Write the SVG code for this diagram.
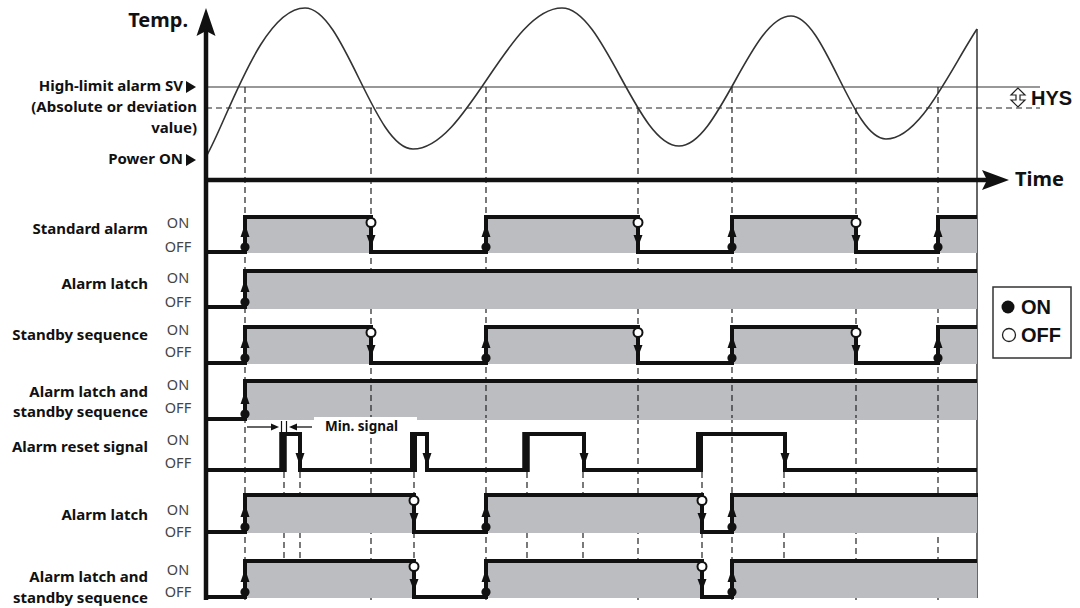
<svg xmlns="http://www.w3.org/2000/svg" width="1080" height="608" viewBox="0 0 1080 608">
<style>
.lbl{font-family:"Noto Sans","Liberation Sans",sans-serif;font-weight:bold;font-size:15px;fill:#111;text-anchor:end}
.onoff{font-family:"Noto Sans","Liberation Sans",sans-serif;font-size:14.5px;fill:#444;text-anchor:middle}
.big{font-family:"Noto Sans","Liberation Sans",sans-serif;font-weight:bold;font-size:20px;fill:#111}
.leg{font-family:"Liberation Sans",Arial,sans-serif;font-weight:bold;font-size:20px;fill:#111}
.dash{stroke:#222;stroke-width:1.2;stroke-dasharray:6 4;fill:none}
.gray{fill:#bcbdc0}
.sig{fill:none;stroke:#111;stroke-width:4;stroke-linejoin:miter}
.thin{fill:none;stroke:#333;stroke-width:1.2}
</style>
<defs>
<g id="up"><path d="M0,-28 L-4.5,-15 L4.5,-15 Z" fill="#111"/><circle cx="0" cy="-5" r="4.6" fill="#111"/></g>
<g id="down"><path d="M0,30 L-4.5,18 L4.5,18 Z" fill="#111"/><circle cx="0" cy="5.5" r="4.5" fill="#fff" stroke="#111" stroke-width="2"/></g>
<path id="dn" d="M0,32 L-4.5,19 L4.5,19 Z" fill="#111"/>
</defs>
<rect width="1080" height="608" fill="#fff"/>

<g id="temp-chart">
<line x1="206" y1="87" x2="1040" y2="87" class="thin"/>
<line x1="206" y1="108" x2="1040" y2="108" class="dash"/>
<path d="M207,155 C228,118 262,8 305,8 C344,8 374,149 413,149 C467,149 508,8 562,8 C604,8 637,146 679,146 C719,146 751,16 791,16 C825,16 852,139 886,139 C920,139 950,70 977,29" fill="none" stroke="#333" stroke-width="1.6"/>
<line x1="977" y1="29" x2="977" y2="598" stroke="#333" stroke-width="1.5"/>
</g>

<g id="connectors">
<g class="dash">
<line x1="245" y1="87" x2="245" y2="600"/>
<line x1="371" y1="108" x2="371" y2="600"/>
<line x1="486" y1="87" x2="486" y2="600"/>
<line x1="638" y1="108" x2="638" y2="600"/>
<line x1="732" y1="87" x2="732" y2="600"/>
<line x1="856" y1="108" x2="856" y2="600"/>
<line x1="938" y1="87" x2="938" y2="600"/>
<line x1="284" y1="472" x2="284" y2="600"/>
<line x1="300" y1="472" x2="300" y2="600"/>
<line x1="414" y1="472" x2="414" y2="600"/>
<line x1="527" y1="472" x2="527" y2="600"/>
<line x1="583" y1="472" x2="583" y2="600"/>
<line x1="702" y1="472" x2="702" y2="600"/>
<line x1="784" y1="472" x2="784" y2="600"/>
</g>
</g>

<g id="fills">
<rect class="gray" x="245" y="219" width="126" height="34"/>
<rect class="gray" x="486" y="219" width="152" height="34"/>
<rect class="gray" x="732" y="219" width="124" height="34"/>
<rect class="gray" x="938" y="219" width="39" height="34"/>
<rect class="gray" x="245" y="273" width="732" height="36"/>
<rect class="gray" x="245" y="329" width="126" height="35"/>
<rect class="gray" x="486" y="329" width="152" height="35"/>
<rect class="gray" x="732" y="329" width="124" height="35"/>
<rect class="gray" x="938" y="329" width="39" height="35"/>
<rect class="gray" x="245" y="383" width="732" height="37"/>
<rect class="gray" x="245" y="497" width="169" height="36"/>
<rect class="gray" x="486" y="497" width="216" height="36"/>
<rect class="gray" x="732" y="497" width="245" height="36"/>
<rect class="gray" x="245" y="563" width="169" height="35"/>
<rect class="gray" x="486" y="563" width="216" height="35"/>
<rect class="gray" x="732" y="563" width="245" height="35"/>
<g class="dash">
<line x1="371" y1="385" x2="371" y2="418"/>
<line x1="486" y1="385" x2="486" y2="418"/>
<line x1="638" y1="385" x2="638" y2="418"/>
<line x1="732" y1="385" x2="732" y2="418"/>
<line x1="856" y1="385" x2="856" y2="418"/>
<line x1="938" y1="385" x2="938" y2="418"/>
</g>
</g>

<g id="min-signal">
<rect x="314" y="417" width="103" height="18" fill="#fff"/>
<text x="325" y="431" font-family="'Noto Sans','Liberation Sans',sans-serif" font-weight="bold" font-size="13.5" fill="#111">Min. signal</text>
<line x1="247" y1="427" x2="273" y2="427" stroke="#111" stroke-width="1.3"/>
<path d="M279,427 L271,423.5 L271,430.5 Z" fill="#111"/>
<line x1="296" y1="427" x2="312" y2="427" stroke="#111" stroke-width="1.3"/>
<path d="M289,427 L297,423.5 L297,430.5 Z" fill="#111"/>
<line x1="281.5" y1="421" x2="281.5" y2="433" stroke="#111" stroke-width="1.2"/>
<line x1="286.5" y1="421" x2="286.5" y2="433" stroke="#111" stroke-width="1.2"/>
</g>

<g id="standard-alarm">
<text class="lbl" x="148" y="234">Standard alarm</text>
<text class="onoff" x="178" y="228">ON</text><text class="onoff" x="178" y="252">OFF</text>
<path class="sig" d="M206,252 H245 V217 H371 V252 H486 V217 H638 V252 H732 V217 H856 V252 H938 V217 H977"/>
<use href="#up" x="245" y="252"/><use href="#up" x="486" y="252"/><use href="#up" x="732" y="252"/><use href="#up" x="938" y="252"/>
<use href="#down" x="371" y="217"/><use href="#down" x="638" y="217"/><use href="#down" x="856" y="217"/>
</g>

<g id="alarm-latch-1">
<text class="lbl" x="148" y="289">Alarm latch</text>
<text class="onoff" x="178" y="283">ON</text><text class="onoff" x="178" y="307">OFF</text>
<path class="sig" d="M206,307 H245 V271 H977"/>
<use href="#up" x="245" y="307"/>
</g>

<g id="standby-sequence">
<text class="lbl" x="148" y="340">Standby sequence</text>
<text class="onoff" x="178" y="335">ON</text><text class="onoff" x="178" y="357">OFF</text>
<path class="sig" d="M206,363 H245 V327 H371 V363 H486 V327 H638 V363 H732 V327 H856 V363 H938 V327 H977"/>
<use href="#up" x="245" y="363"/><use href="#up" x="486" y="363"/><use href="#up" x="732" y="363"/><use href="#up" x="938" y="363"/>
<use href="#down" x="371" y="327"/><use href="#down" x="638" y="327"/><use href="#down" x="856" y="327"/>
</g>

<g id="latch-standby-1">
<text class="lbl" x="148" y="397">Alarm latch and</text>
<text class="lbl" x="148" y="417">standby sequence</text>
<text class="onoff" x="178" y="390">ON</text><text class="onoff" x="178" y="413">OFF</text>
<path class="sig" d="M206,419 H245 V381 H977"/>
<use href="#up" x="245" y="419"/>
</g>

<g id="alarm-reset">
<text class="lbl" x="148" y="452">Alarm reset signal</text>
<text class="onoff" x="178" y="445">ON</text><text class="onoff" x="178" y="468">OFF</text>
<path class="sig" d="M206,470 H283 V434 H300 V470 H413 V434 H427 V470 H526 V434 H584 V470 H700 V434 H785 V470 H977"/>
<line x1="283" y1="432" x2="283" y2="472" stroke="#111" stroke-width="7.5"/>
<line x1="413.5" y1="432" x2="413.5" y2="472" stroke="#111" stroke-width="7"/>
<line x1="526" y1="432" x2="526" y2="472" stroke="#111" stroke-width="7.5"/>
<line x1="699.5" y1="432" x2="699.5" y2="472" stroke="#111" stroke-width="7"/>
<use href="#dn" x="300" y="434"/><use href="#dn" x="427" y="434"/><use href="#dn" x="584" y="434"/><use href="#dn" x="785" y="434"/>
</g>

<g id="alarm-latch-2">
<text class="lbl" x="148" y="520">Alarm latch</text>
<text class="onoff" x="178" y="515">ON</text><text class="onoff" x="178" y="537">OFF</text>
<path class="sig" d="M206,532 H245 V495 H414 V532 H486 V495 H702 V532 H732 V495 H978"/>
<use href="#up" x="245" y="532"/><use href="#up" x="486" y="532"/><use href="#up" x="732" y="532"/>
<use href="#down" x="414" y="495"/><use href="#down" x="702" y="495"/>
</g>

<g id="latch-standby-2">
<text class="lbl" x="148" y="582">Alarm latch and</text>
<text class="lbl" x="148" y="603">standby sequence</text>
<text class="onoff" x="178" y="575">ON</text><text class="onoff" x="178" y="597">OFF</text>
<path class="sig" d="M206,597 H245 V561 H414 V597 H486 V561 H702 V597 H732 V561 H977"/>
<use href="#up" x="245" y="597"/><use href="#up" x="486" y="597"/><use href="#up" x="732" y="597"/>
<use href="#down" x="414" y="561"/><use href="#down" x="702" y="561"/>
</g>

<g id="axes">
<line x1="206" y1="28" x2="206" y2="600" stroke="#111" stroke-width="4.5"/>
<path d="M206,8 L215.5,36 L206,31 L196.5,36 Z" fill="#111"/>
<line x1="204" y1="180" x2="988" y2="180" stroke="#111" stroke-width="4.5"/>
<path d="M1009,180 L982,170 L987,180 L982,190 Z" fill="#111"/>
<text class="big" x="188" y="27" text-anchor="end">Temp.</text>
<text class="big" x="1015" y="186">Time</text>
</g>

<g id="levels">
<text class="lbl" x="183" y="91" font-size="15.2">High-limit alarm SV</text>
<path d="M186,81 L196,87 L186,93 Z" fill="#111"/>
<text class="lbl" x="197" y="112" font-size="14.8">(Absolute or deviation</text>
<text class="lbl" x="197" y="133" font-size="14.8">value)</text>
<text class="lbl" x="183" y="164" font-size="15">Power ON</text>
<path d="M186,154 L196,160 L186,166 Z" fill="#111"/>
</g>

<g id="hys">
<path d="M1018,88 L1011,95 H1016 V100 H1011 L1018,107 L1025,100 H1020 V95 H1025 Z" fill="#fff" stroke="#222" stroke-width="1.2"/>
<text class="leg" x="1031" y="105" font-size="18">HYS</text>
</g>

<g id="legend">
<rect x="993" y="287" width="78" height="71" fill="#fff" stroke="#333" stroke-width="1.5"/>
<circle cx="1008" cy="307" r="6.5" fill="#111"/>
<text class="leg" x="1021" y="314">ON</text>
<circle cx="1009" cy="335" r="6.5" fill="#fff" stroke="#222" stroke-width="1.3"/>
<text class="leg" x="1021" y="342">OFF</text>
</g>
</svg>
